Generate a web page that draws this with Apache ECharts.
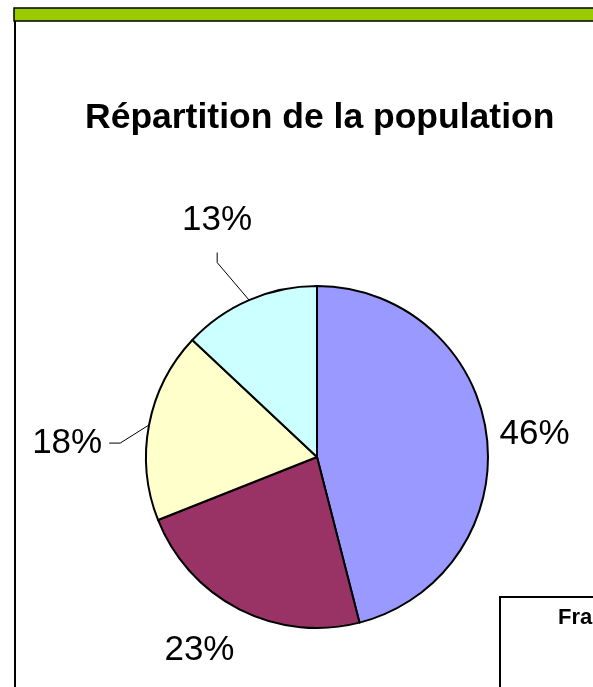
<!DOCTYPE html>
<html>
<head>
<meta charset="utf-8">
<script src="https://cdn.jsdelivr.net/npm/echarts@6/dist/echarts.min.js"></script>
<style>
  html, body { margin: 0; padding: 0; background: #fff; }
  #chart { width: 593px; height: 687px; }
</style>
</head>
<body>
<div id="chart"></div>
<script>
const titleText = 'Répartition de la population';
const categories = ['Catégorie 1', 'Catégorie 2', 'Catégorie 3', 'Catégorie 4'];
const values = [46, 23, 18, 13];
const colors = ['#9999FF', '#993366', '#FFFFCC', '#CCFFFF'];
const legendTitle = 'France';

const FONT = '"Liberation Sans", Arial, sans-serif';

// per-slice label line settings (style only)
const labelCfg = [
  { showLine: false, length: 8, length2: 0 },
  { showLine: false, length: 46, length2: -21 },
  { showLine: true, length: 10, length2: 32 },
  { showLine: true, length: 30, length2: 5 }
];
// label text offsets and leader-line bends relative to the library's computed points
const labelShift = [
  { dx: 0, dy: 0 },
  { dx: 0, dy: 0 },
  { dx: 0, dy: 20, bend: [[-19, 20], [2, 20]] },
  { dx: 25, dy: -52, bend: [[-20, -10], [-15, -20]] }
];

const chart = echarts.init(document.getElementById('chart'), null, { renderer: 'canvas' });

const data = categories.map((name, i) => ({
  name: name,
  value: values[i],
  itemStyle: { color: colors[i] },
  labelLine: { show: labelCfg[i].showLine, length: labelCfg[i].length, length2: labelCfg[i].length2 }
}));

function layoutLabel(p) {
  const s = labelShift[p.dataIndex];
  const out = { dx: s.dx, dy: s.dy };
  const pts = p.labelLinePoints;
  if (s.bend && pts && pts.length === 3) {
    if (p.dataIndex === 3) {
      out.labelLinePoints = [
        pts[0],
        [pts[1][0] + s.bend[0][0], pts[1][1] + s.bend[0][1]],
        [pts[1][0] + s.bend[0][0], pts[1][1] + s.bend[1][1]]
      ];
    } else {
      out.labelLinePoints = [
        pts[0],
        [pts[1][0] + s.bend[0][0], pts[1][1] + s.bend[0][1]],
        [pts[2][0] + s.bend[1][0], pts[2][1] + s.bend[1][1]]
      ];
    }
  }
  return out;
}

chart.setOption({
  animation: false,
  backgroundColor: '#ffffff',
  title: {
    text: titleText,
    left: 80,
    top: 93,
    textStyle: { fontFamily: FONT, fontSize: 35.5, fontWeight: 'bold', color: '#000', lineHeight: 40 }
  },
  graphic: [
    { type: 'line', shape: { x1: 15, y1: 8, x2: 15, y2: 687 }, style: { stroke: '#000', lineWidth: 2 }, z: 10 },
    { type: 'rect', shape: { x: 14, y: 8, width: 600, height: 13 }, style: { fill: '#99CC00', stroke: '#000', lineWidth: 1.5 }, z: 10 },
    { type: 'rect', shape: { x: 500, y: 597, width: 200, height: 200 }, style: { fill: '#fff', stroke: '#000', lineWidth: 2 }, z: 10 },
    { type: 'text', left: 558, top: 607, style: { text: legendTitle, font: 'bold 22px ' + FONT, fill: '#000' }, z: 11 }
  ],
  series: [{
    type: 'pie',
    center: [317, 457],
    radius: 171,
    startAngle: 90,
    clockwise: true,
    avoidLabelOverlap: false,
    itemStyle: { borderColor: '#000', borderWidth: 2 },
    label: {
      show: true,
      position: 'outside',
      overflow: 'none',
      distanceToLabelLine: 5,
      fontFamily: FONT,
      fontSize: 35,
      color: '#000',
      formatter: p => Math.round(p.percent) + '%'
    },
    labelLine: { lineStyle: { color: '#000', width: 1 } },
    labelLayout: layoutLabel,
    emphasis: { disabled: true },
    data: data
  }]
});
</script>
</body>
</html>
